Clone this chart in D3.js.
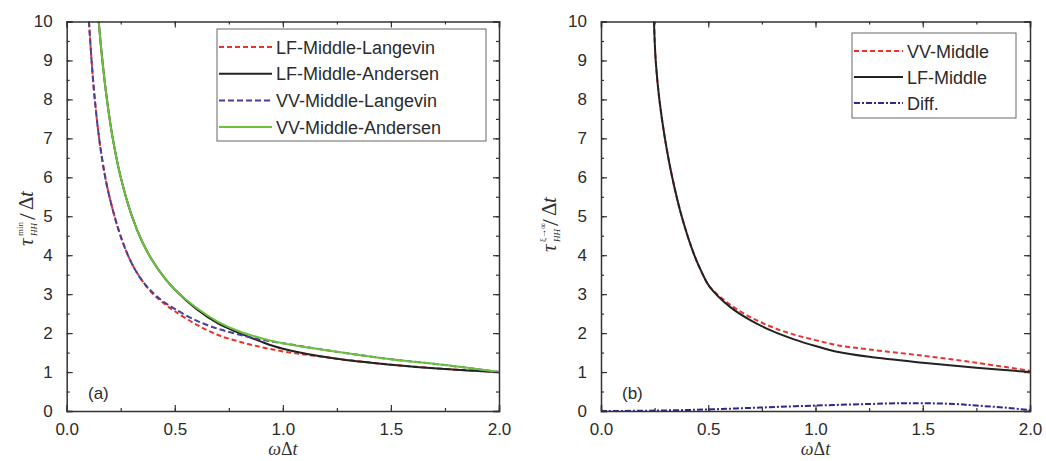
<!DOCTYPE html>
<html>
<head>
<meta charset="utf-8">
<script src="https://cdn.jsdelivr.net/npm/d3@7"></script>
<style>
  body { margin: 0; background: #fff; }
  svg { display: block; }
  .tick text { font-family: "Liberation Sans", Arial, sans-serif; font-size: 17px; fill: #2b2b2b; }
  .leg { font-family: "Liberation Sans", Arial, sans-serif; font-size: 18px; fill: #2b2b2b; }
</style>
</head>
<body>
<svg id="chart" width="1046" height="461"></svg>
<script>
// panel (a) series, [omega*dt, tau/dt]
const lfLangevinA = [[0.103,10],[0.115,9],[0.13,8],[0.15,7],[0.175,6.1],[0.2,5.45],[0.25,4.48],[0.3,3.8],[0.35,3.34],
  [0.4,3.0],[0.45,2.76],[0.5,2.56],[0.6,2.22],[0.7,1.95],[0.8,1.78],[0.9,1.64],[1.0,1.53],[1.1,1.45],[1.2,1.38],
  [1.25,1.34],[1.5,1.19],[1.75,1.08],[2.0,1.0]];
const lfAndersenA = [[0.148,10],[0.165,9],[0.186,8],[0.213,7],[0.25,6],[0.3,5.03],[0.35,4.34],[0.4,3.83],[0.45,3.44],[0.5,3.12],
  [0.6,2.62],[0.7,2.25],[0.8,2.0],[0.9,1.78],[1.0,1.6],[1.25,1.34],[1.5,1.19],[1.75,1.08],[2.0,1.0]];
const vvLangevinA = [[0.103,10],[0.115,9],[0.13,8],[0.15,7],[0.175,6.1],[0.2,5.45],[0.25,4.48],[0.3,3.8],[0.35,3.34],
  [0.4,3.03],[0.45,2.8],[0.5,2.62],[0.6,2.32],[0.7,2.11],[0.8,1.96],[0.9,1.83],[1.0,1.74],
  [1.25,1.52],[1.5,1.33],[1.75,1.18],[2.0,1.0]];
const vvAndersenA = [[0.148,10],[0.165,9],[0.186,8],[0.213,7],[0.25,6],[0.3,5.03],[0.35,4.34],[0.4,3.83],[0.45,3.44],[0.5,3.12],
  [0.6,2.65],[0.7,2.29],[0.8,2.04],[0.9,1.87],[1.0,1.74],[1.25,1.52],[1.5,1.33],[1.75,1.18],[2.0,1.0]];

// panel (b) series
const vvMiddleB = [[0.247,10],[0.255,9],[0.272,8],[0.298,7],[0.332,6],[0.376,5],[0.435,4],[0.475,3.5],[0.505,3.2],
  [0.6,2.74],[0.7,2.4],[0.8,2.15],[0.9,1.96],[1.0,1.82],[1.1,1.69],[1.25,1.58],[1.5,1.42],[1.75,1.24],[2.0,1.03]];
const lfMiddleB = [[0.247,10],[0.255,9],[0.272,8],[0.298,7],[0.332,6],[0.376,5],[0.435,4],[0.475,3.5],[0.505,3.2],
  [0.6,2.68],[0.7,2.32],[0.8,2.05],[0.9,1.84],[1.0,1.67],[1.1,1.52],[1.25,1.39],[1.5,1.24],[1.75,1.11],[2.0,1.0]];
const diffB = [[0,0],[0.25,0.01],[0.5,0.04],[0.75,0.09],[1.0,0.14],[1.25,0.18],[1.4,0.2],[1.5,0.2],[1.65,0.18],[1.75,0.14],[1.9,0.08],[2.0,0.02]];

const xTicks = [0, 0.5, 1.0, 1.5, 2.0];
const yTicks = [0,1,2,3,4,5,6,7,8,9,10];

const svg = d3.select("#chart");

function drawPanel(p) {
  const x = d3.scaleLinear().domain([0, 2]).range([p.left, p.right]);
  const y = d3.scaleLinear().domain([0, 10]).range([411, 21.5]);
  const g = svg.append("g");

  const line = d3.line().x(d => x(d[0])).y(d => y(d[1])).curve(d3.curveCatmullRom.alpha(0.5));
  const area = g.append("g");
  p.series.forEach(s => {
    area.append("path")
      .attr("d", line(s.data))
      .attr("fill", "none")
      .attr("stroke", s.color)
      .attr("stroke-width", s.width || 2)
      .attr("stroke-dasharray", s.dash || null);
  });

  // axes, ticks inward on all four sides
  const minorX = d3.range(0, 2.01, 0.25);
  const minorY = d3.range(0, 10.01, 0.5);
  const axStyle = a => a.selectAll(".domain").attr("stroke", "#333").attr("stroke-width", 1.5);

  g.append("g").attr("transform", `translate(0,${y(0)})`)
    .call(d3.axisBottom(x).tickValues(minorX).tickSize(-3).tickFormat(""))
    .call(a => a.select(".domain").remove());
  g.append("g").attr("transform", `translate(0,${y(0)})`)
    .call(d3.axisBottom(x).tickValues(xTicks).tickSize(-6).tickPadding(12).tickFormat(d3.format(".1f")))
    .call(axStyle);
  g.append("g").attr("transform", `translate(0,${y(10)})`)
    .call(d3.axisTop(x).tickValues(minorX).tickSize(-3).tickFormat(""))
    .call(a => a.select(".domain").remove());
  g.append("g").attr("transform", `translate(0,${y(10)})`)
    .call(d3.axisTop(x).tickValues(xTicks).tickSize(-6).tickFormat(""))
    .call(axStyle);
  g.append("g").attr("transform", `translate(${x(0)},0)`)
    .call(d3.axisLeft(y).tickValues(minorY).tickSize(-3).tickFormat(""))
    .call(a => a.select(".domain").remove());
  g.append("g").attr("transform", `translate(${x(0)},0)`)
    .call(d3.axisLeft(y).tickValues(yTicks).tickSize(-6).tickPadding(14).tickFormat(d3.format("d")))
    .call(axStyle);
  g.append("g").attr("transform", `translate(${x(2)},0)`)
    .call(d3.axisRight(y).tickValues(minorY).tickSize(-3).tickFormat(""))
    .call(a => a.select(".domain").remove());
  g.append("g").attr("transform", `translate(${x(2)},0)`)
    .call(d3.axisRight(y).tickValues(yTicks).tickSize(-6).tickFormat(""))
    .call(axStyle);
  g.selectAll(".tick line").attr("stroke", "#333").attr("stroke-width", 1.2);

  // x title
  const xt = g.append("text")
    .attr("x", (p.left + p.right) / 2).attr("y", 455)
    .attr("text-anchor", "middle")
    .attr("font-family", "'Liberation Serif', 'Times New Roman', serif")
    .attr("font-size", 18).attr("fill", "#333");
  xt.append("tspan").attr("font-style", "italic").text("ω");
  xt.append("tspan").text("Δ");
  xt.append("tspan").attr("font-style", "italic").text("t");

  // y title
  const yt = g.append("g").attr("transform", `translate(${p.ytx},${p.yty}) rotate(-90)`)
    .attr("font-family", "'Liberation Serif', 'Times New Roman', serif").attr("fill", "#333");
  yt.append("text").attr("x", -30).attr("y", 0).attr("font-size", 21).attr("font-style", "italic").text("τ");
  yt.append("text").attr("x", -20).attr("y", -10).attr("font-size", 9).text(p.sup);
  yt.append("text").attr("x", -20).attr("y", 4).attr("font-size", 9).attr("font-style", "italic").text("HH");
  yt.append("text").attr("x", p.slashX).attr("y", 2).attr("font-size", 24).text("/");
  yt.append("text").attr("x", p.slashX + 10).attr("y", 0).attr("font-size", 21).text("Δ");
  yt.append("text").attr("x", p.slashX + 23).attr("y", 0).attr("font-size", 21).attr("font-style", "italic").text("t");

  // panel tag
  g.append("text").attr("x", p.tagX).attr("y", 399)
    .attr("font-family", "'Liberation Sans', Arial, sans-serif").attr("font-size", 17).attr("fill", "#2b2b2b")
    .text(p.tag);

  // legend
  const lg = g.append("g");
  lg.append("rect").attr("x", p.leg.x).attr("y", p.leg.y).attr("width", p.leg.w).attr("height", p.leg.h)
    .attr("fill", "#fff").attr("stroke", "#666").attr("stroke-width", 1);
  p.series.filter(s => s.label).forEach((s, i) => {
    const ly = p.leg.y + p.leg.first + i * p.leg.step;
    lg.append("line").attr("x1", p.leg.x + 2).attr("x2", p.leg.x + p.leg.lineW).attr("y1", ly).attr("y2", ly)
      .attr("stroke", s.color).attr("stroke-width", s.width || 2).attr("stroke-dasharray", s.dash || null);
    lg.append("text").attr("class", "leg").attr("x", p.leg.x + p.leg.lineW + 4).attr("y", ly + 6.5).text(s.label);
  });
}

drawPanel({
  left: 66.7, right: 499, tag: "(a)", tagX: 88, ytx: 33, yty: 216, sup: "min", slashX: -4,
  series: [
    { data: lfLangevinA, color: "#e8322b", dash: "5,3", label: "LF-Middle-Langevin" },
    { data: lfAndersenA, color: "#222", label: "LF-Middle-Andersen" },
    { data: vvLangevinA, color: "#4a3d9c", dash: "6,3", label: "VV-Middle-Langevin" },
    { data: vvAndersenA, color: "#6dbf3e", label: "VV-Middle-Andersen" }
  ],
  leg: { x: 217, y: 29, w: 269, h: 112, first: 18, step: 26.7, lineW: 55 }
});

drawPanel({
  left: 601, right: 1030, tag: "(b)", tagX: 622, ytx: 556, yty: 222, sup: "ξ→∞", slashX: -4,
  series: [
    { data: vvMiddleB, color: "#e8322b", dash: "5,3", label: "VV-Middle" },
    { data: lfMiddleB, color: "#222", label: "LF-Middle" },
    { data: diffB, color: "#2e2a8c", dash: "6,2,2,2", label: "Diff." }
  ],
  leg: { x: 852, y: 33, w: 164, h: 85, first: 18, step: 26, lineW: 51 }
});
</script>
</body>
</html>
